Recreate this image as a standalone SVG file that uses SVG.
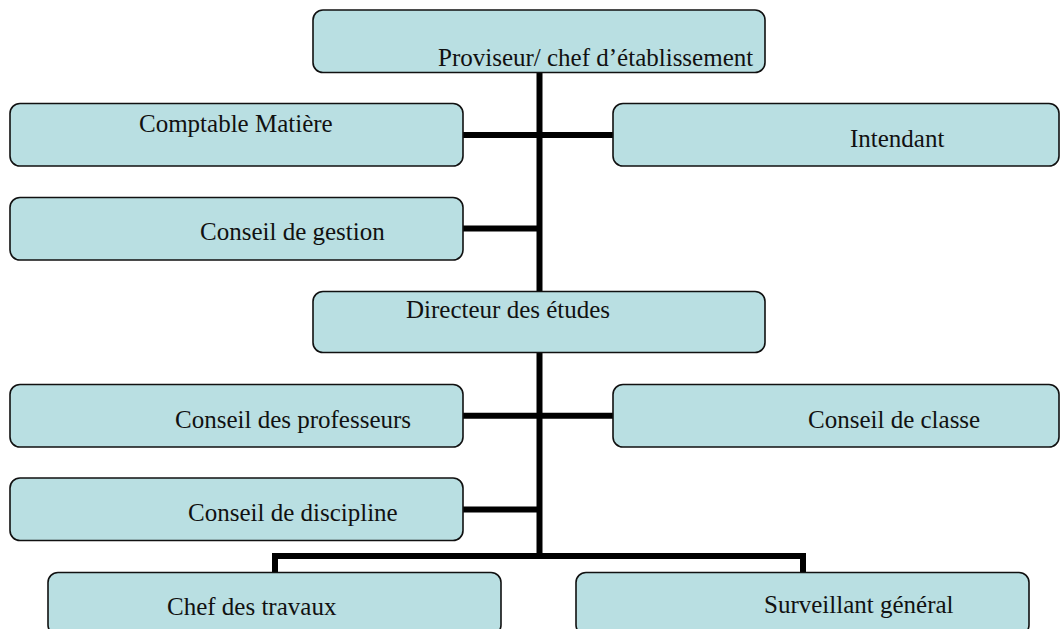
<svg xmlns="http://www.w3.org/2000/svg" width="1060" height="629" viewBox="0 0 1060 629">
<style>
.box{fill:#b9dfe2;stroke:#111;stroke-width:1.6}
.lbl{font-family:"Liberation Serif","Times New Roman",serif;font-size:25px;fill:#111}
.conn{stroke:#000;stroke-width:6;fill:none}
</style>
<rect width="1060" height="629" fill="#fff"/>
<g id="connectors">
<line class="conn" x1="539.5" y1="72" x2="539.5" y2="292"/>
<line class="conn" x1="539.5" y1="352" x2="539.5" y2="559"/>
<line class="conn" x1="463" y1="135" x2="614" y2="135"/>
<line class="conn" x1="463" y1="228.5" x2="540" y2="228.5"/>
<line class="conn" x1="463" y1="415.7" x2="614" y2="415.7"/>
<line class="conn" x1="463" y1="509.5" x2="540" y2="509.5"/>
<polyline class="conn" points="275,573 275,556 803,556 803,573"/>
</g>
<g id="proviseur"><rect class="box" x="313" y="10" width="452" height="62.5" rx="10"/><text class="lbl" x="438" y="65.5">Proviseur/ chef d’établissement</text></g>
<g id="comptable"><rect class="box" x="10" y="103.5" width="453" height="62.5" rx="10"/><text class="lbl" x="139" y="132">Comptable Matière</text></g>
<g id="intendant"><rect class="box" x="613" y="103.5" width="446" height="62.5" rx="10"/><text class="lbl" x="850" y="147">Intendant</text></g>
<g id="gestion"><rect class="box" x="10" y="197.5" width="453" height="62.5" rx="10"/><text class="lbl" x="200" y="240">Conseil de gestion</text></g>
<g id="directeur"><rect class="box" x="313" y="291.5" width="452" height="61" rx="10"/><text class="lbl" x="406" y="318">Directeur des études</text></g>
<g id="professeurs"><rect class="box" x="10" y="384.5" width="453" height="62.5" rx="10"/><text class="lbl" x="175" y="428">Conseil des professeurs</text></g>
<g id="classe"><rect class="box" x="613" y="384.5" width="446" height="62.5" rx="10"/><text class="lbl" x="808" y="428">Conseil de classe</text></g>
<g id="discipline"><rect class="box" x="10" y="478" width="453" height="62.5" rx="10"/><text class="lbl" x="188" y="521">Conseil de discipline</text></g>
<g id="travaux"><rect class="box" x="48" y="572.5" width="453" height="62.5" rx="10"/><text class="lbl" x="167" y="615">Chef des travaux</text></g>
<g id="surveillant"><rect class="box" x="576" y="572.5" width="453" height="62.5" rx="10"/><text class="lbl" x="764" y="613">Surveillant général</text></g>
</svg>
